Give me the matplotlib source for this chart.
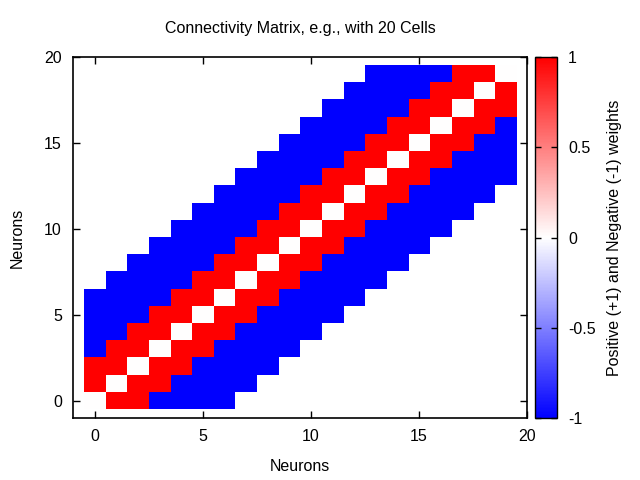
import numpy as np
import matplotlib
matplotlib.use("Agg")
import matplotlib.pyplot as plt
from matplotlib.colors import LinearSegmentedColormap

plt.rcParams['font.family'] = ['Liberation Sans', 'DejaVu Sans']

n_cells = 20
# weight by distance from diagonal |i-j|: 0 -> 0, 1..2 -> +1, 3..6 -> -1, beyond -> no connection
distance = [0, 1, 2, 3, 4, 5, 6]
weight = [0, 1, 1, -1, -1, -1, -1]

title = "Connectivity Matrix, e.g., with 20 Cells"
xlabel = "Neurons"
ylabel = "Neurons"
cbar_label = "Positive (+1) and Negative (-1) weights"
xticks = [0, 5, 10, 15, 20]
yticks = [0, 5, 10, 15, 20]
cticks = [-1, -0.5, 0, 0.5, 1]
cticklabels = ["-1", "-0.5", "0", "0.5", "1"]

M = np.full((n_cells, n_cells), np.nan)
for i in range(n_cells):
    for j in range(n_cells):
        d = abs(i - j)
        if d in distance:
            M[i, j] = weight[distance.index(d)]

cmap = LinearSegmentedColormap.from_list("bwr_g", ["#0000ff", "#ffffff", "#ff0000"])

fs = 11.5
fig = plt.figure(figsize=(6.4, 4.8), dpi=100)
ax = fig.add_axes([73/640, 1-418/480, (527-73)/640, (418-57)/480])
cax = fig.add_axes([535/640, 1-418/480, (557-535)/640, (418-57)/480])

im = ax.imshow(M, cmap=cmap, vmin=-1, vmax=1, origin='lower', interpolation='nearest',
               extent=(-0.5, n_cells-0.5, -0.5, n_cells-0.5), aspect='auto')
ax.set_xlim(-1, 20)
ax.set_ylim(-1, 20)
ax.set_xticks(xticks)
ax.set_yticks(yticks)
ax.tick_params(direction='in', top=True, right=True, length=5, width=1, labelsize=fs, pad=8)
for s in ax.spines.values():
    s.set_linewidth(1.2)
ax.set_title(title, fontsize=fs, pad=17)
ax.set_xlabel(xlabel, fontsize=fs, labelpad=11)
ax.set_ylabel(ylabel, fontsize=fs, labelpad=14)

cb = fig.colorbar(im, cax=cax)
cb.set_ticks(cticks)
cb.set_ticklabels(cticklabels)
cax.tick_params(direction='in', left=True, right=True, length=4, width=1, labelsize=fs, pad=8)
cb.outline.set_linewidth(1)
cb.set_label(cbar_label, fontsize=fs, labelpad=8)

fig.savefig("out.png", dpi=100)
